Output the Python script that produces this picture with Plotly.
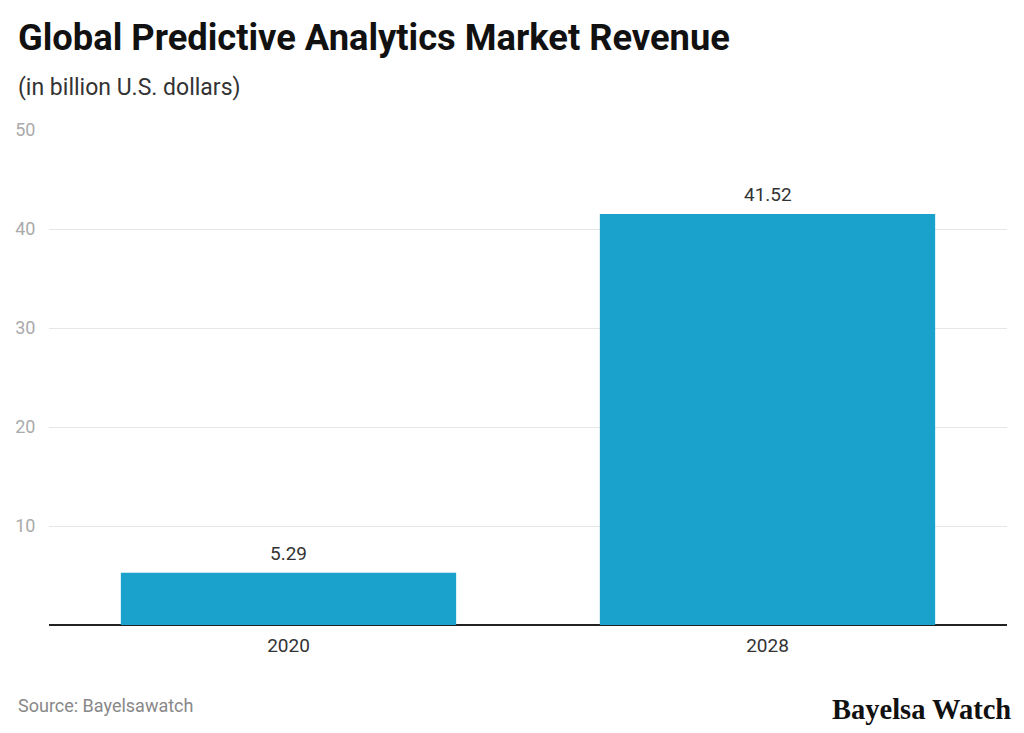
import plotly.graph_objects as go

years = ["2020", "2028"]
revenue = [5.29, 41.52]
revenue_labels = ["5.29", "41.52"]
y_ticks = [10, 20, 30, 40, 50]

PLOT_H = 733 - 130 - 108

fig = go.Figure()
fig.add_trace(go.Bar(
    x=years, y=revenue,
    marker=dict(color="#1aa1cc", line=dict(width=0)),
    hoverinfo="x+y",
))

fig.update_layout(
    width=1024, height=733,
    margin=dict(l=49, r=17, t=130, b=108),
    paper_bgcolor="white", plot_bgcolor="white",
    bargap=0.3,
    showlegend=False,
    font=dict(family="Roboto"),
    xaxis=dict(
        type="category",
        tickfont=dict(family="Roboto", size=19, color="#333333"),
        showgrid=False, ticks="outside", ticklen=3, tickcolor="rgba(0,0,0,0)",
        showline=False,
    ),
    yaxis=dict(
        range=[0, 50], tickvals=y_ticks,
        tickfont=dict(family="Roboto", size=18, color="#aaaaaa"),
        showgrid=True, gridcolor="#e6e6e6", gridwidth=1,
        zeroline=True, zerolinecolor="#222222", zerolinewidth=1.5,
        ticks="outside", ticklen=9, tickcolor="rgba(0,0,0,0)",
        showline=False,
    ),
)

# value labels above bars (category index positions)
for i, (val, lab) in enumerate(zip(revenue, revenue_labels)):
    fig.add_annotation(x=i, y=val, xref="x", yref="y", text=lab, showarrow=False,
                       xanchor="center", yanchor="bottom", yshift=6,
                       font=dict(family="Roboto", size=19, color="#333333"))

def py(pix):
    return (625 - pix) / PLOT_H

fig.add_annotation(text="<b>Global Predictive Analytics Market Revenue</b>",
                   xref="paper", yref="paper", x=-0.034, y=py(38),
                   xanchor="left", yanchor="middle", showarrow=False,
                   font=dict(family="Roboto", size=36.3, color="#111111"))
fig.add_annotation(text="(in billion U.S. dollars)",
                   xref="paper", yref="paper", x=-0.034, y=py(88),
                   xanchor="left", yanchor="middle", showarrow=False,
                   font=dict(family="Roboto", size=23, color="#333333"))
fig.add_annotation(text="Source: Bayelsawatch",
                   xref="paper", yref="paper", x=-0.034, y=py(705),
                   xanchor="left", yanchor="middle", showarrow=False,
                   font=dict(family="Roboto", size=18, color="#888888"))
fig.add_annotation(text="<b>Bayelsa Watch</b>",
                   xref="paper", yref="paper", x=1 + 6/958, y=py(709),
                   xanchor="right", yanchor="middle", showarrow=False,
                   font=dict(family="Liberation Serif", size=28.5, color="#111111"))

fig.write_html("out.html")
